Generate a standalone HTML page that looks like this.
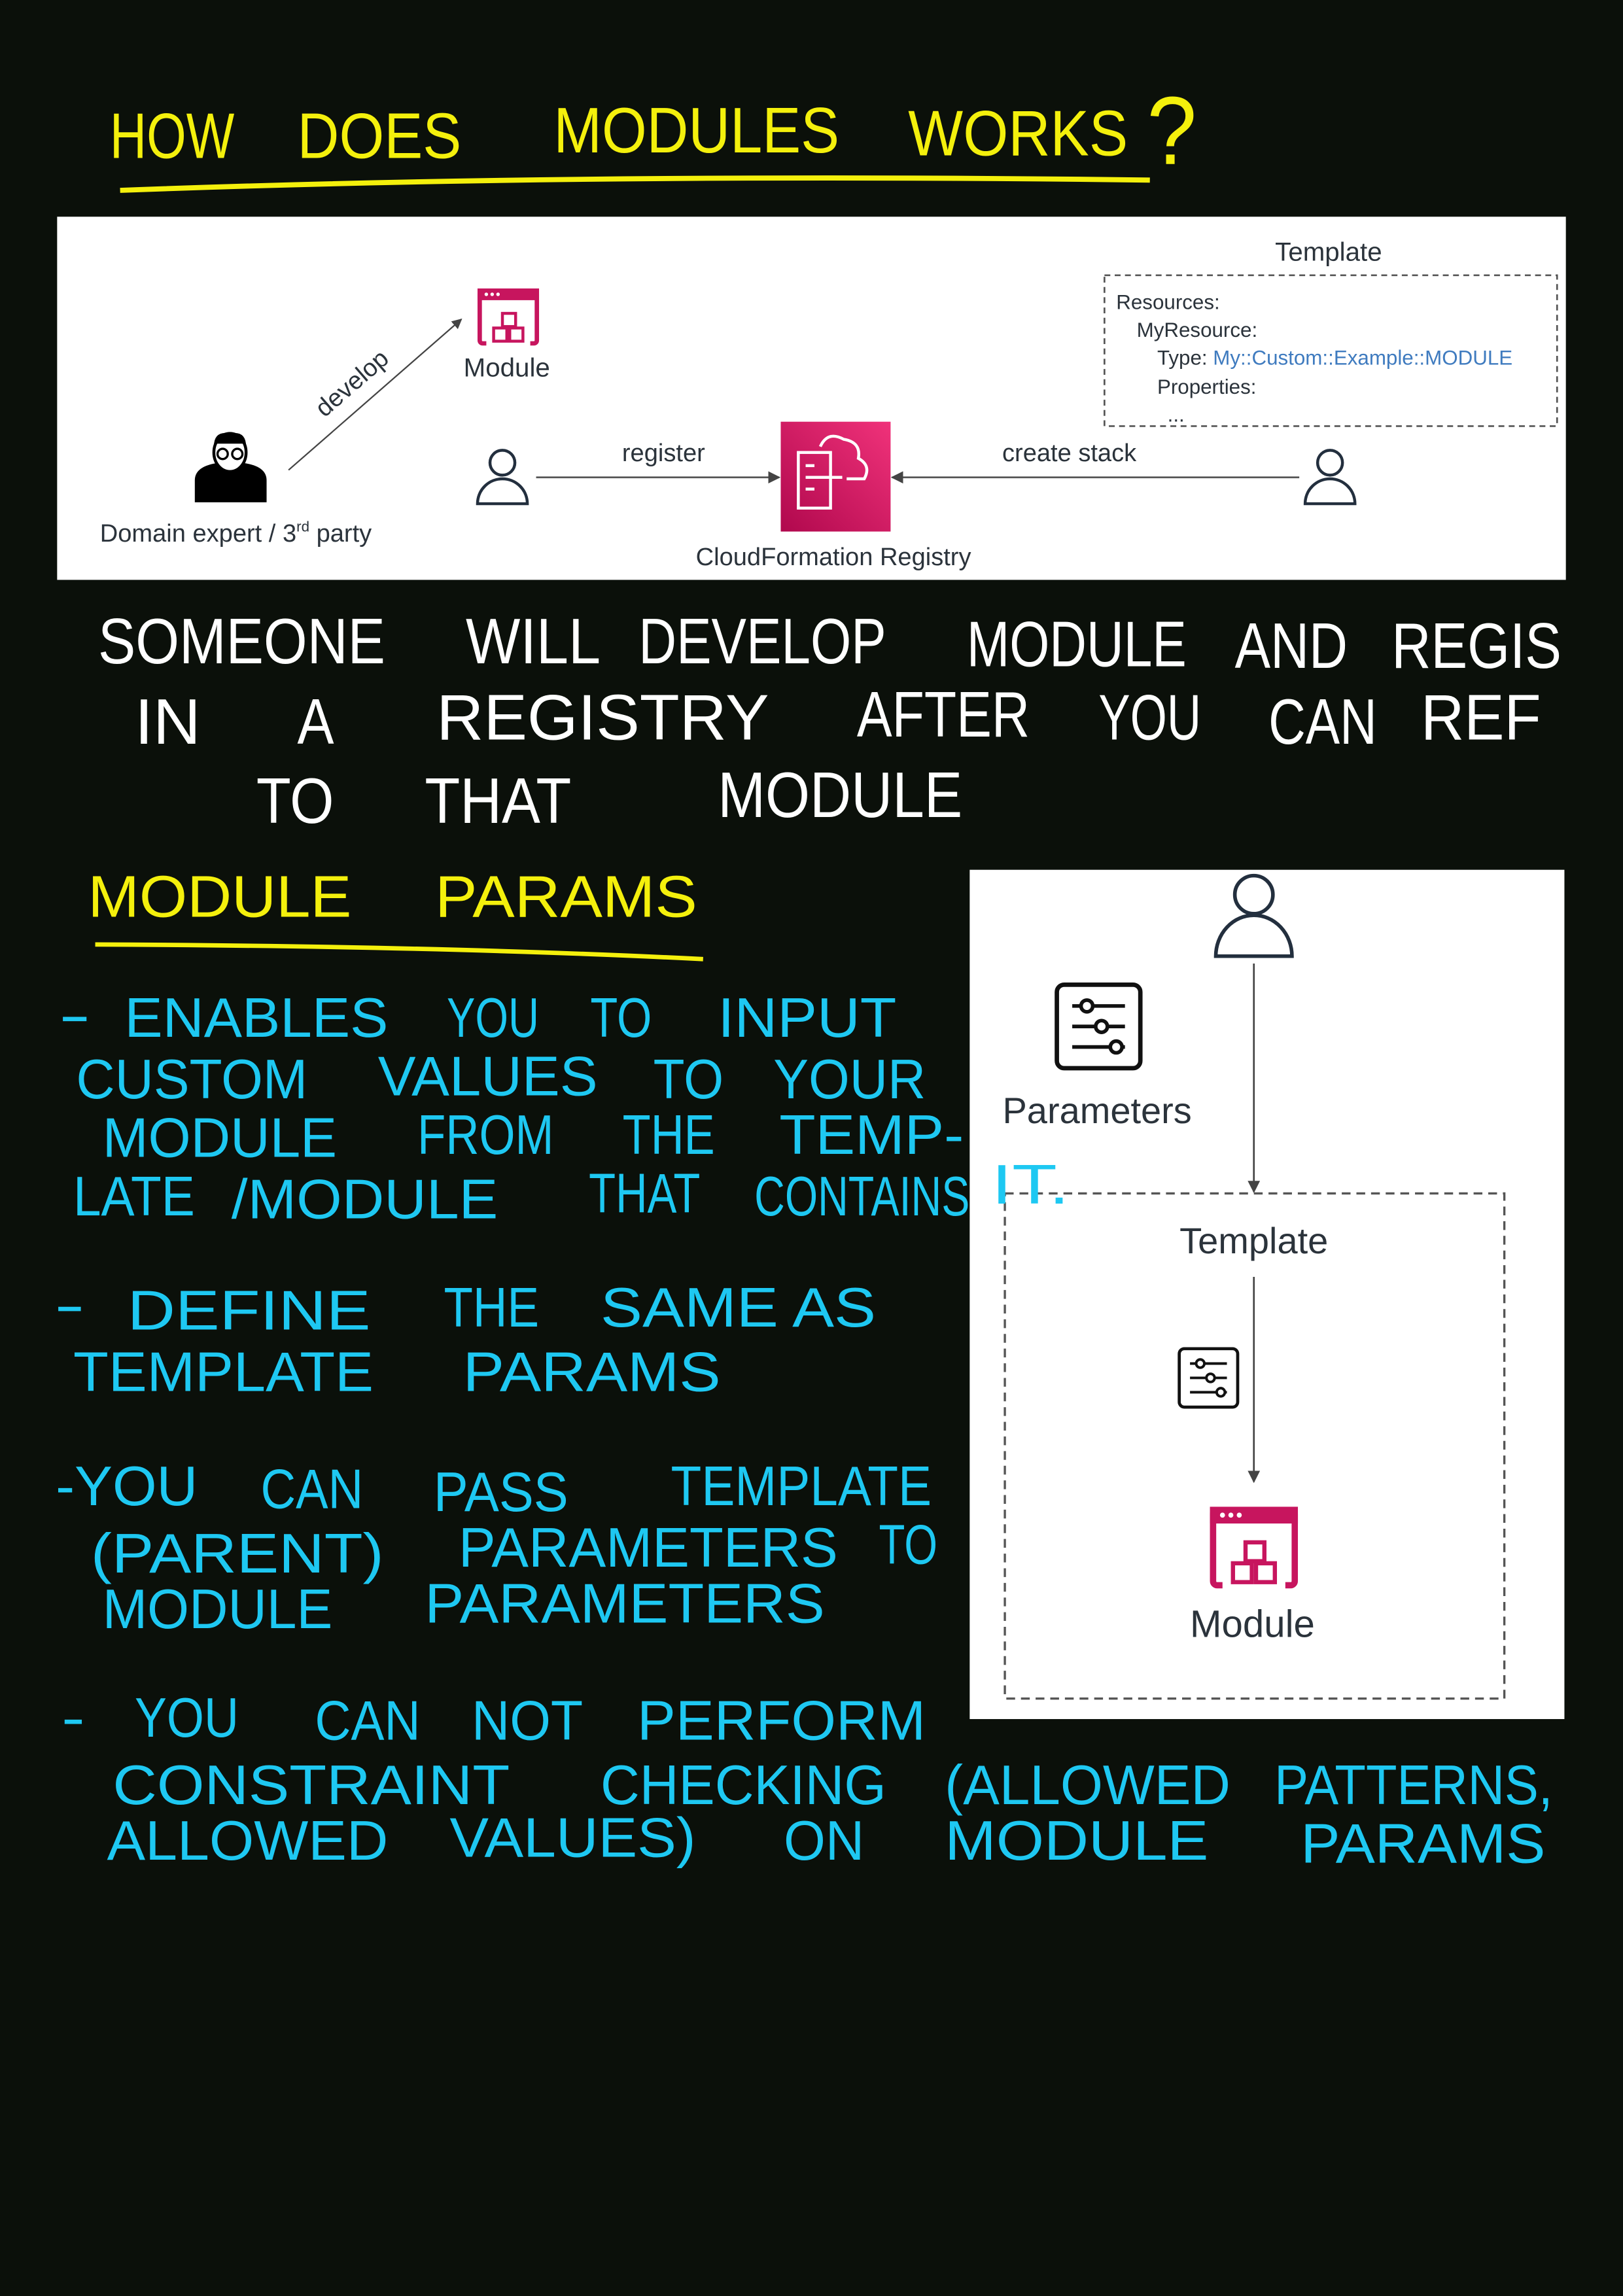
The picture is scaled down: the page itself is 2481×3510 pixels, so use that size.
<!DOCTYPE html>
<html><head><meta charset="utf-8"><style>
html,body{margin:0;padding:0;background:#0b100a;}
svg{display:block}
.h{font-family:"Liberation Sans",sans-serif;}
.y{fill:#f4f00c}.w{fill:#ffffff}.c{fill:#1ec8f2}
.d{font-family:"Liberation Sans",sans-serif;fill:#2b333b}
</style></head><body>
<svg width="2481" height="3510" viewBox="0 0 1108 1568" preserveAspectRatio="none" xmlns="http://www.w3.org/2000/svg">
<defs>
<linearGradient id="g" x1="0" y1="1" x2="1" y2="0"><stop offset="0" stop-color="#b0084d"/><stop offset="1" stop-color="#f0327a"/></linearGradient>
<marker id="a" viewBox="0 0 10 10" refX="9" refY="5" markerWidth="7" markerHeight="7" orient="auto"><path d="M0,0 L10,5 L0,10 Z" fill="#444"/></marker>
<g id="mod"><rect x="1.5" y="1.5" width="39" height="36" rx="2" fill="none" stroke="#c7155e" stroke-width="3"/><rect x="0" y="0" width="42" height="8" fill="#c7155e"/><circle cx="6" cy="4" r="1.2" fill="#fff"/><circle cx="10" cy="4" r="1.2" fill="#fff"/><circle cx="14" cy="4" r="1.2" fill="#fff"/><rect x="6" y="34" width="30" height="6" fill="#fff"/><g fill="#fff" stroke="#c7155e" stroke-width="2"><rect x="17" y="17" width="9" height="9"/><rect x="11" y="27" width="9" height="9"/><rect x="22" y="27" width="9" height="9"/></g></g>
<g id="prm"><rect x="1.5" y="1.5" width="57" height="57" rx="5" fill="none" stroke="#111" stroke-width="3"/><g stroke="#111" stroke-width="2.5" fill="#fff"><line x1="12" y1="16" x2="48" y2="16"/><line x1="12" y1="30" x2="48" y2="30"/><line x1="12" y1="44" x2="48" y2="44"/><circle cx="22" cy="16" r="4"/><circle cx="32" cy="30" r="4"/><circle cx="42" cy="44" r="4"/></g></g>
</defs>

<!-- Title -->
<g class="h y" font-size="44">
<text x="75" y="108" textLength="85" lengthAdjust="spacingAndGlyphs">HOW</text>
<text x="203" y="108" textLength="112" lengthAdjust="spacingAndGlyphs">DOES</text>
<text x="378" y="104" textLength="195" lengthAdjust="spacingAndGlyphs">MODULES</text>
<text x="620" y="106" textLength="150" lengthAdjust="spacingAndGlyphs">WORKS</text>
<text x="783" y="112" font-size="66" textLength="34" lengthAdjust="spacingAndGlyphs">?</text>
</g>
<path d="M82,130 Q400,118 785,123" stroke="#f4f00c" stroke-width="3.5" fill="none"/>

<!-- Top panel -->
<rect x="39" y="148" width="1030" height="248" fill="#fff"/>
<text class="d" x="907" y="178" font-size="18" text-anchor="middle">Template</text>
<rect x="754" y="188" width="309" height="103" fill="none" stroke="#555" stroke-width="1.2" stroke-dasharray="4,3"/>
<g class="d" font-size="14">
<text x="762" y="211">Resources:</text>
<text x="776" y="230">MyResource:</text>
<text x="790" y="249">Type: <tspan fill="#3f7bbf">My::Custom::Example::MODULE</tspan></text>
<text x="790" y="269">Properties:</text>
<text x="797" y="288">...</text>
</g>
<use href="#mod" x="326" y="197"/>
<text class="d" x="346" y="257" font-size="18" text-anchor="middle">Module</text>
<line x1="197" y1="321" x2="315" y2="218" stroke="#444" stroke-width="1" marker-end="url(#a)"/>
<text class="d" x="244" y="266" font-size="17" text-anchor="middle" transform="rotate(-41 244 266)">develop</text>
<!-- domain expert -->
<g><path d="M133,343 L133,328 Q133,318 150,316 L165,316 Q182,318 182,328 L182,343 Z" fill="#000"/><ellipse cx="157" cy="309" rx="11" ry="13" fill="#fff" stroke="#000" stroke-width="2"/><path d="M146,305 Q146,294 157,296 Q168,294 168,305 L166,303 L148,303 Z" fill="#000"/><circle cx="152" cy="310" r="3.5" fill="none" stroke="#000" stroke-width="1.5"/><circle cx="162" cy="310" r="3.5" fill="none" stroke="#000" stroke-width="1.5"/></g>
<text class="d" x="161" y="370" font-size="17" text-anchor="middle">Domain expert / 3<tspan font-size="10" dy="-7">rd</tspan><tspan dy="7"> party</tspan></text>
<!-- users -->
<g fill="none" stroke="#232f3e" stroke-width="2"><circle cx="343" cy="316" r="8.5"/><path d="M326,344 A17,17 0 0 1 360,344 Z"/><circle cx="908" cy="316" r="8.5"/><path d="M891,344 A17,17 0 0 1 925,344 Z"/></g>
<line x1="366" y1="326" x2="532" y2="326" stroke="#555" stroke-width="1.2" marker-end="url(#a)"/>
<line x1="887" y1="326" x2="609" y2="326" stroke="#555" stroke-width="1.2" marker-end="url(#a)"/>
<text class="d" x="453" y="315" font-size="17" text-anchor="middle">register</text>
<text class="d" x="730" y="315" font-size="17" text-anchor="middle">create stack</text>
<rect x="533" y="288" width="75" height="75" fill="url(#g)"/>
<g fill="none" stroke="#fff" stroke-width="2"><rect x="545" y="309" width="22" height="38"/><path d="M560,305 Q565,294 576,300 Q588,302 586,313 Q595,318 590,327 L578,327"/><line x1="550" y1="318" x2="556" y2="318"/><line x1="550" y1="326" x2="575" y2="326"/><line x1="550" y1="334" x2="556" y2="334"/></g>
<text class="d" x="569" y="386" font-size="17" text-anchor="middle">CloudFormation Registry</text>

<!-- White handwriting -->
<g class="h w" font-size="44">
<text x="67" y="453" textLength="196" lengthAdjust="spacingAndGlyphs">SOMEONE</text>
<text x="318" y="453" textLength="92" lengthAdjust="spacingAndGlyphs">WILL</text>
<text x="436" y="453" textLength="169" lengthAdjust="spacingAndGlyphs">DEVELOP</text>
<text x="660" y="455" textLength="150" lengthAdjust="spacingAndGlyphs">MODULE</text>
<text x="843" y="456" textLength="77" lengthAdjust="spacingAndGlyphs">AND</text>
<text x="950" y="456" textLength="116" lengthAdjust="spacingAndGlyphs">REGIS</text>
<text x="92" y="508" textLength="45" lengthAdjust="spacingAndGlyphs">IN</text>
<text x="203" y="508" textLength="25" lengthAdjust="spacingAndGlyphs">A</text>
<text x="298" y="505" textLength="227" lengthAdjust="spacingAndGlyphs">REGISTRY</text>
<text x="585" y="503" textLength="118" lengthAdjust="spacingAndGlyphs">AFTER</text>
<text x="750" y="505" textLength="70" lengthAdjust="spacingAndGlyphs">YOU</text>
<text x="866" y="508" textLength="74" lengthAdjust="spacingAndGlyphs">CAN</text>
<text x="970" y="505" textLength="82" lengthAdjust="spacingAndGlyphs">REF</text>
<text x="175" y="562" textLength="53" lengthAdjust="spacingAndGlyphs">TO</text>
<text x="290" y="562" textLength="100" lengthAdjust="spacingAndGlyphs">THAT</text>
<text x="490" y="558" textLength="167" lengthAdjust="spacingAndGlyphs">MODULE</text>
</g>

<!-- Module params -->
<g class="h y" font-size="40">
<text x="60" y="626" textLength="180" lengthAdjust="spacingAndGlyphs">MODULE</text>
<text x="297" y="626" textLength="179" lengthAdjust="spacingAndGlyphs">PARAMS</text>
</g>
<path d="M65,645 Q300,646 480,655" stroke="#f4f00c" stroke-width="3" fill="none"/>

<!-- Right panel -->
<rect x="662" y="594" width="406" height="580" fill="#fff"/>
<g fill="none" stroke="#232f3e" stroke-width="2.5"><circle cx="856" cy="611" r="13"/><path d="M830,653 A26,28 0 0 1 882,653 Z"/></g>
<line x1="856" y1="658" x2="856" y2="814" stroke="#444" stroke-width="1.2" marker-end="url(#a)"/>
<use href="#prm" x="720" y="671"/>
<text class="d" x="749" y="767" font-size="25" text-anchor="middle">Parameters</text>
<rect x="686" y="815" width="341" height="345" fill="none" stroke="#555" stroke-width="1.5" stroke-dasharray="6,4"/>
<text class="d" x="856" y="856" font-size="25" text-anchor="middle">Template</text>
<line x1="856" y1="872" x2="856" y2="1012" stroke="#444" stroke-width="1.2" marker-end="url(#a)"/>
<use href="#prm" transform="translate(804,920) scale(0.7)"/>
<use href="#mod" transform="translate(826,1029) scale(1.43)"/>
<text class="d" x="855" y="1118" font-size="26" text-anchor="middle">Module</text>

<!-- Cyan handwriting -->
<g class="h c" font-size="38">
<text x="40" y="706" textLength="22" lengthAdjust="spacingAndGlyphs">-</text>
<text x="85" y="708" textLength="180" lengthAdjust="spacingAndGlyphs">ENABLES</text>
<text x="305" y="708" textLength="63" lengthAdjust="spacingAndGlyphs">YOU</text>
<text x="403" y="708" textLength="42" lengthAdjust="spacingAndGlyphs">TO</text>
<text x="490" y="708" textLength="122" lengthAdjust="spacingAndGlyphs">INPUT</text>
<text x="52" y="750" textLength="158" lengthAdjust="spacingAndGlyphs">CUSTOM</text>
<text x="258" y="748" textLength="150" lengthAdjust="spacingAndGlyphs">VALUES</text>
<text x="446" y="750" textLength="48" lengthAdjust="spacingAndGlyphs">TO</text>
<text x="528" y="750" textLength="104" lengthAdjust="spacingAndGlyphs">YOUR</text>
<text x="70" y="790" textLength="160" lengthAdjust="spacingAndGlyphs">MODULE</text>
<text x="285" y="788" textLength="93" lengthAdjust="spacingAndGlyphs">FROM</text>
<text x="425" y="788" textLength="63" lengthAdjust="spacingAndGlyphs">THE</text>
<text x="532" y="788" textLength="126" lengthAdjust="spacingAndGlyphs">TEMP-</text>
<text x="50" y="830" textLength="83" lengthAdjust="spacingAndGlyphs">LATE</text>
<text x="158" y="832" textLength="182" lengthAdjust="spacingAndGlyphs">/MODULE</text>
<text x="402" y="828" textLength="76" lengthAdjust="spacingAndGlyphs">THAT</text>
<text x="515" y="830" textLength="147" lengthAdjust="spacingAndGlyphs">CONTAINS</text>
<text x="677" y="822" textLength="53" lengthAdjust="spacingAndGlyphs">IT.</text>
<text x="37" y="904" textLength="21" lengthAdjust="spacingAndGlyphs">-</text>
<text x="87" y="908" textLength="166" lengthAdjust="spacingAndGlyphs">DEFINE</text>
<text x="303" y="906" textLength="65" lengthAdjust="spacingAndGlyphs">THE</text>
<text x="410" y="906" textLength="188" lengthAdjust="spacingAndGlyphs">SAME AS</text>
<text x="50" y="950" textLength="205" lengthAdjust="spacingAndGlyphs">TEMPLATE</text>
<text x="316" y="950" textLength="176" lengthAdjust="spacingAndGlyphs">PARAMS</text>
<text x="38" y="1028" textLength="97" lengthAdjust="spacingAndGlyphs">-YOU</text>
<text x="178" y="1030" textLength="70" lengthAdjust="spacingAndGlyphs">CAN</text>
<text x="296" y="1032" textLength="92" lengthAdjust="spacingAndGlyphs">PASS</text>
<text x="458" y="1028" textLength="178" lengthAdjust="spacingAndGlyphs">TEMPLATE</text>
<text x="62" y="1074" textLength="200" lengthAdjust="spacingAndGlyphs">(PARENT)</text>
<text x="313" y="1070" textLength="259" lengthAdjust="spacingAndGlyphs">PARAMETERS</text>
<text x="600" y="1068" textLength="40" lengthAdjust="spacingAndGlyphs">TO</text>
<text x="70" y="1112" textLength="157" lengthAdjust="spacingAndGlyphs">MODULE</text>
<text x="290" y="1108" textLength="273" lengthAdjust="spacingAndGlyphs">PARAMETERS</text>
<text x="42" y="1186" textLength="16" lengthAdjust="spacingAndGlyphs">-</text>
<text x="92" y="1186" textLength="71" lengthAdjust="spacingAndGlyphs">YOU</text>
<text x="215" y="1188" textLength="72" lengthAdjust="spacingAndGlyphs">CAN</text>
<text x="322" y="1188" textLength="76" lengthAdjust="spacingAndGlyphs">NOT</text>
<text x="435" y="1188" textLength="197" lengthAdjust="spacingAndGlyphs">PERFORM</text>
<text x="77" y="1232" textLength="271" lengthAdjust="spacingAndGlyphs">CONSTRAINT</text>
<text x="410" y="1232" textLength="195" lengthAdjust="spacingAndGlyphs">CHECKING</text>
<text x="645" y="1232" textLength="195" lengthAdjust="spacingAndGlyphs">(ALLOWED</text>
<text x="870" y="1232" textLength="190" lengthAdjust="spacingAndGlyphs">PATTERNS,</text>
<text x="73" y="1270" textLength="192" lengthAdjust="spacingAndGlyphs">ALLOWED</text>
<text x="307" y="1268" textLength="168" lengthAdjust="spacingAndGlyphs">VALUES)</text>
<text x="535" y="1270" textLength="55" lengthAdjust="spacingAndGlyphs">ON</text>
<text x="645" y="1270" textLength="180" lengthAdjust="spacingAndGlyphs">MODULE</text>
<text x="888" y="1272" textLength="167" lengthAdjust="spacingAndGlyphs">PARAMS</text>
</g>
</svg>
</body></html>
